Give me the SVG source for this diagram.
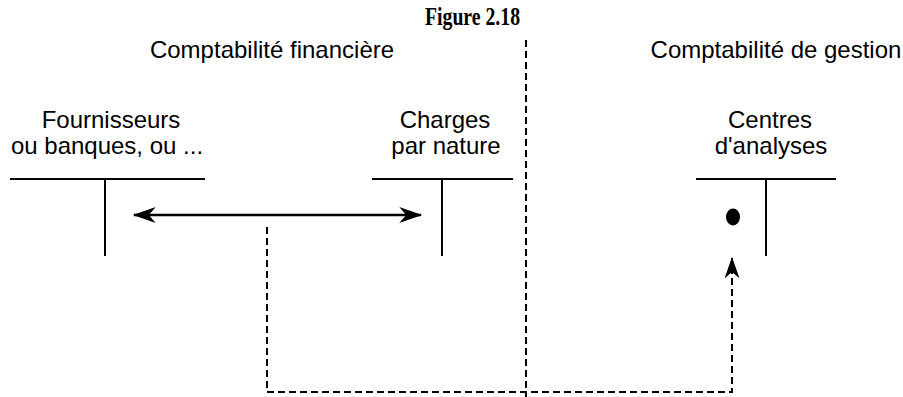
<svg xmlns="http://www.w3.org/2000/svg" width="903" height="397" viewBox="0 0 903 397">
<style>
.t{font-family:"Liberation Sans",Arial,sans-serif;font-size:24px;fill:#000;text-anchor:middle}
.ttl{font-family:"Liberation Serif","Times New Roman",serif;font-weight:bold;font-size:26px;fill:#000}
.acc{stroke:#000;stroke-width:2;fill:none}
.solid{stroke:#000;stroke-width:2.5;fill:none}
.dash{stroke:#000;stroke-width:2;fill:none;stroke-dasharray:7 4}
</style>
<defs>
<marker id="ah" viewBox="0 0 20 14" refX="19" refY="7" markerWidth="24" markerHeight="16" markerUnits="userSpaceOnUse" orient="auto-start-reverse">
<path d="M0,0 L20,7 L0,14 L6,7 Z" fill="#000"/>
</marker>
<marker id="ahd" viewBox="0 0 20 14" refX="19" refY="7" markerWidth="24" markerHeight="15" markerUnits="userSpaceOnUse" orient="auto">
<path d="M0,0 L20,7 L0,14 L6,7 Z" fill="#000"/>
</marker>
</defs>
<text class="ttl" x="425" y="25" textLength="95" lengthAdjust="spacingAndGlyphs">Figure 2.18</text>
<text class="t" x="272" y="58">Comptabilité financière</text>
<text class="t" x="776" y="58">Comptabilité de gestion</text>
<g id="fournisseurs">
<text class="t" x="111" y="128">Fournisseurs</text>
<text class="t" x="107" y="154">ou banques, ou ...</text>
<line class="acc" x1="10" y1="179" x2="205" y2="179"/>
<line class="acc" x1="105" y1="179" x2="105" y2="256"/>
</g>
<g id="charges">
<text class="t" x="445" y="128">Charges</text>
<text class="t" x="446" y="154">par nature</text>
<line class="acc" x1="372" y1="179" x2="513" y2="179"/>
<line class="acc" x1="442" y1="179" x2="442" y2="256"/>
</g>
<g id="centres">
<text class="t" x="770" y="128">Centres</text>
<text class="t" x="771" y="154">d'analyses</text>
<line class="acc" x1="696" y1="179" x2="836" y2="179"/>
<line class="acc" x1="766" y1="179" x2="766" y2="256"/>
<ellipse cx="733" cy="217" rx="7" ry="8.5" fill="#000"/>
</g>
<g id="connectors">
<line class="dash" x1="526" y1="40" x2="526" y2="397"/>
<line class="solid" x1="134" y1="215" x2="421" y2="215" marker-start="url(#ah)" marker-end="url(#ah)"/>
<polyline class="dash" points="267,227 267,392 732,392 732,258" marker-end="url(#ahd)"/>
</g>
</svg>
